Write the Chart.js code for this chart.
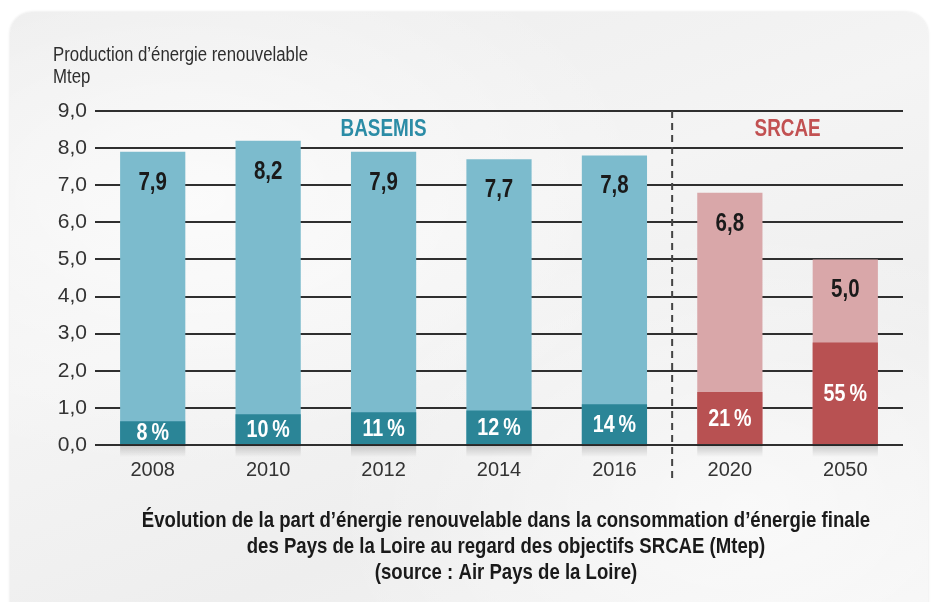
<!DOCTYPE html>
<html>
<head>
<meta charset="utf-8">
<script src="https://cdn.jsdelivr.net/npm/chart.js@4/dist/chart.umd.min.js"></script>
<style>
  html, body { margin: 0; padding: 0; background: #ffffff; overflow: hidden; }
  #card {
    position: absolute; left: 10px; top: 12px; width: 918px; height: 620px;
    border-radius: 22px;
    box-shadow: 0 0 3px rgba(0,0,0,0.12);
    background:
      radial-gradient(ellipse at 20% 30%, rgba(255,255,255,0.7), rgba(255,255,255,0) 45%),
      radial-gradient(ellipse at 80% 80%, rgba(255,255,255,0.6), rgba(255,255,255,0) 40%),
      linear-gradient(160deg, #ececec, #f4f4f4 40%, #eeeeee 70%, #f5f5f5);
  }
  #wrap { position: absolute; left: 0; top: 0; width: 936px; height: 602px; }
</style>
</head>
<body>
<div id="card"></div>
<div id="wrap"><canvas id="myChart" width="936" height="602"></canvas></div>
<script>
// Données (Mtep)
const years = ['2008', '2010', '2012', '2014', '2016', '2020', '2050'];
const totalProduction = [7.9, 8.2, 7.9, 7.7, 7.8, 6.8, 5.0];
const renewableShare = [0.64, 0.83, 0.88, 0.93, 1.10, 1.43, 2.76];
const totalLabels = ['7,9', '8,2', '7,9', '7,7', '7,8', '6,8', '5,0'];
const shareLabels = ['8\u202F%', '10\u202F%', '11\u202F%', '12\u202F%', '14\u202F%', '21\u202F%', '55\u202F%'];
const sources = ['BASEMIS', 'BASEMIS', 'BASEMIS', 'BASEMIS', 'BASEMIS', 'SRCAE', 'SRCAE'];

const axisTitle = ["Production d\u2019énergie renouvelable", 'Mtep'];
const caption = [
  "Évolution de la part d\u2019énergie renouvelable dans la consommation d\u2019énergie finale",
  'des Pays de la Loire au regard des objectifs SRCAE (Mtep)',
  '(source : Air Pays de la Loire)'
];

const lightColors = { BASEMIS: '#7cbbcd', SRCAE: '#d9a7a9' };
const darkColors = { BASEMIS: '#2b8597', SRCAE: '#b85152' };
const groupColors = { BASEMIS: '#2b8ca6', SRCAE: '#c25152' };

const sans = '"Liberation Sans", Arial, sans-serif';

// texte "condensé" : police normale compressée horizontalement
function narrowText(ctx, text, x, y, font, sx) {
  ctx.save();
  ctx.translate(x, y);
  ctx.scale(sx, 1);
  ctx.font = font;
  ctx.fillText(text, 0, 0);
  ctx.restore();
}

const annotations = {
  id: 'annotations',
  beforeDatasetsDraw(chart) {
    const { ctx, chartArea } = chart;
    // ombre légère sous les barres
    chart.getDatasetMeta(1).data.forEach(bar => {
      const half = bar.width / 2;
      const g = ctx.createLinearGradient(0, chartArea.bottom, 0, chartArea.bottom + 12);
      g.addColorStop(0, 'rgba(0,0,0,0.18)');
      g.addColorStop(1, 'rgba(0,0,0,0)');
      ctx.fillStyle = g;
      ctx.fillRect(bar.x - half, chartArea.bottom, bar.width, 12);
    });
  },
  afterDatasetsDraw(chart) {
    const { ctx, chartArea, scales: { x, y } } = chart;
    ctx.save();

    // ligne pointillée entre 2016 et 2020
    const sepX = (x.getPixelForValue(4) + x.getPixelForValue(5)) / 2;
    ctx.strokeStyle = '#444';
    ctx.lineWidth = 2;
    ctx.setLineDash([7, 5]);
    ctx.beginPath();
    ctx.moveTo(sepX, chartArea.top);
    ctx.lineTo(sepX, chartArea.bottom + 33);
    ctx.stroke();
    ctx.setLineDash([]);

    ctx.textBaseline = 'middle';

    // titre de l'axe (en haut à gauche)
    ctx.textAlign = 'left';
    ctx.fillStyle = '#2e2e2e';
    narrowText(ctx, axisTitle[0], 53, 55, '20px ' + sans, 0.84);
    narrowText(ctx, axisTitle[1], 53, 77, '20px ' + sans, 0.84);

    // titres des groupes
    ctx.textAlign = 'center';
    const labelY = (y.getPixelForValue(9) + y.getPixelForValue(8)) / 2;
    ctx.fillStyle = groupColors.BASEMIS;
    narrowText(ctx, 'BASEMIS', x.getPixelForValue(2), labelY, 'bold 23px ' + sans, 0.82);
    ctx.fillStyle = groupColors.SRCAE;
    narrowText(ctx, 'SRCAE', (x.getPixelForValue(5) + x.getPixelForValue(6)) / 2, labelY, 'bold 23px ' + sans, 0.82);

    // valeurs totales et parts
    chart.getDatasetMeta(1).data.forEach((bar, i) => {
      ctx.fillStyle = '#1a1a1a';
      narrowText(ctx, totalLabels[i], bar.x, bar.y + 31, 'bold 25px ' + sans, 0.82);
    });
    chart.getDatasetMeta(0).data.forEach((bar, i) => {
      ctx.fillStyle = '#ffffff';
      narrowText(ctx, shareLabels[i], bar.x, (bar.y + bar.base) / 2 + 1, 'bold 24px ' + sans, 0.82);
    });

    // légende du graphique (en bas)
    ctx.fillStyle = '#1a1a1a';
    caption.forEach((line, i) => {
      narrowText(ctx, line, 506, 521 + i * 26, 'bold 22px ' + sans, 0.845);
    });
    ctx.restore();
  }
};

const ctx = document.getElementById('myChart').getContext('2d');
new Chart(ctx, {
  type: 'bar',
  data: {
    labels: years,
    datasets: [
      {
        label: "Part d'énergie renouvelable",
        data: renewableShare,
        backgroundColor: sources.map(s => darkColors[s]),
        grouped: false,
        categoryPercentage: 1,
        barPercentage: 0.565
      },
      {
        label: "Production d'énergie renouvelable",
        data: totalProduction,
        backgroundColor: sources.map(s => lightColors[s]),
        grouped: false,
        categoryPercentage: 1,
        barPercentage: 0.565
      }
    ]
  },
  options: {
    responsive: false,
    animation: false,
    layout: { padding: { left: 0, right: 33, top: 111, bottom: 115 } },
    plugins: {
      legend: { display: false },
      tooltip: { enabled: false }
    },
    scales: {
      x: {
        grid: { display: false },
        border: { display: false },
        ticks: {
          color: '#333',
          font: { family: sans, size: 20 },
          padding: 5
        }
      },
      y: {
        min: 0,
        max: 9,
        afterFit: scale => { scale.width = 95; },
        grid: { color: '#2f2f2f', lineWidth: 2, drawTicks: false },
        border: { display: false },
        ticks: {
          stepSize: 1,
          padding: 8,
          color: '#333',
          font: { family: sans, size: 21 },
          callback: v => v.toFixed(1).replace('.', ',')
        }
      }
    }
  },
  plugins: [annotations]
});
</script>
</body>
</html>
